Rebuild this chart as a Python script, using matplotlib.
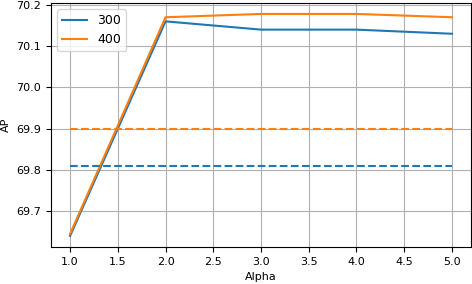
import matplotlib
matplotlib.use("Agg")
import matplotlib.pyplot as plt

alpha = [1.0, 2.0, 3.0, 4.0, 5.0]
ap_300 = [69.64, 70.16, 70.14, 70.14, 70.13]
ap_400 = [69.645, 70.17, 70.178, 70.178, 70.17]
base_300 = 69.81
base_400 = 69.90

plt.rcParams['font.size'] = 8

fig, ax = plt.subplots(figsize=(4.72, 2.84), dpi=100)

ax.plot(alpha, ap_300, color='tab:blue', label='300')
ax.plot(alpha, ap_400, color='tab:orange', label='400')
ax.plot(alpha, [base_300] * len(alpha), color='tab:blue', linestyle='--')
ax.plot(alpha, [base_400] * len(alpha), color='tab:orange', linestyle='--')

ax.set_xlabel("Alpha")
ax.set_ylabel("AP")
ax.grid(True)
ax.legend(loc="upper left", fontsize=9)

fig.subplots_adjust(left=0.108, right=0.998, top=0.99, bottom=0.13)
fig.savefig("out.png", dpi=100)
